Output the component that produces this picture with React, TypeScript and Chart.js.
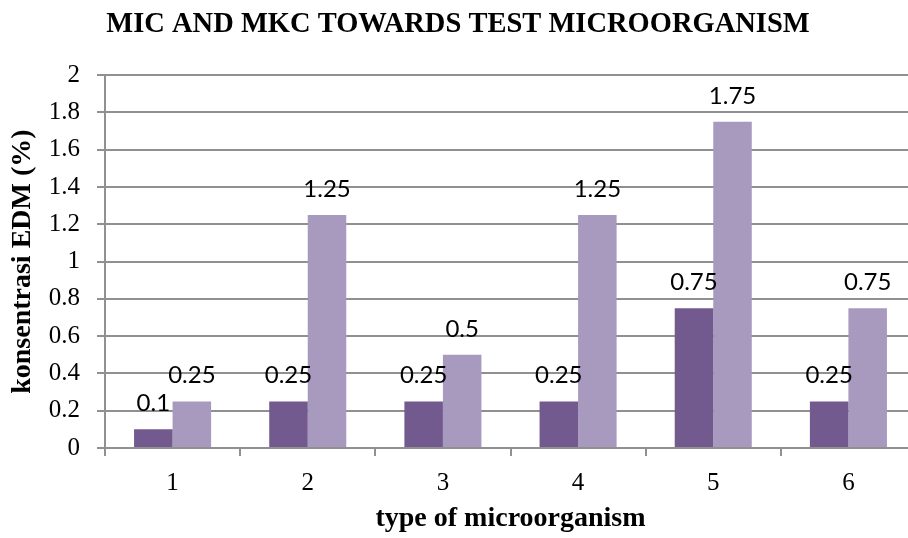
import React, { useEffect, useRef } from "react";
import { Chart, registerables } from "chart.js";

Chart.register(...registerables);

const categories = ["1", "2", "3", "4", "5", "6"];
const micValues = [0.1, 0.25, 0.25, 0.25, 0.75, 0.25];
const mkcValues = [0.25, 1.25, 0.5, 1.25, 1.75, 0.75];
const seriesNames = ["MIC", "MKC"];
const titleText = "MIC AND MKC TOWARDS TEST MICROORGANISM";
const xTitle = "type of microorganism";
const yTitle = "konsentrasi EDM (%)";

const labelPlugin = {
  id: "barValueLabels",
  afterDatasetsDraw(chart: any) {
    const ctx = chart.ctx;
    ctx.save();
    ctx.font = "24px Lato";
    ctx.fillStyle = "#000";
    ctx.textAlign = "center";
    ctx.textBaseline = "alphabetic";
    chart.data.datasets.forEach((ds: any, di: number) => {
      const meta = chart.getDatasetMeta(di);
      meta.data.forEach((el: any, i: number) => {
        ctx.fillText(String(ds.data[i]), el.x, el.y - 18);
      });
    });
    ctx.restore();
  },
};

export default function App() {
  const ref = useRef<HTMLCanvasElement>(null);
  useEffect(() => {
    if (!ref.current) return;
    const grid = "#909090";
    const chart = new Chart(ref.current, {
      type: "bar",
      data: {
        labels: categories,
        datasets: [
          { label: seriesNames[0], data: micValues, backgroundColor: "#725a8e" },
          { label: seriesNames[1], data: mkcValues, backgroundColor: "#a899bf" },
        ],
      },
      options: {
        responsive: false,
        animation: false,
        events: [],
        layout: { padding: { left: 0, right: 4, top: 0, bottom: 0 } },
        datasets: { bar: { categoryPercentage: 0.57, barPercentage: 1 } },
        plugins: {
          legend: { display: false },
          tooltip: { enabled: false },
          title: {
            display: true,
            text: titleText,
            color: "#000",
            font: { family: "Liberation Serif", size: 28.5, weight: "bold", lineHeight: 1.2 },
            padding: { top: 8, bottom: 33 },
          },
        },
        scales: {
          x: {
            afterFit: (s: any) => { s.height = 90; },
            grid: { display: true, drawOnChartArea: false, drawTicks: true, tickLength: 8, offset: true, color: grid, lineWidth: 2 },
            border: { display: true, color: grid, width: 2 },
            ticks: { color: "#000", padding: 12, font: { family: "Liberation Serif", size: 25 } },
            title: {
              display: true,
              text: xTitle,
              color: "#000",
              font: { family: "Liberation Serif", size: 28, weight: "bold", lineHeight: 1.2 },
              padding: { top: 0, bottom: 2 },
            },
          },
          y: {
            min: 0,
            max: 2,
            afterFit: (s: any) => { s.width = 105; },
            grid: { color: grid, lineWidth: 2, tickLength: 8, drawTicks: true },
            border: { display: true, color: grid, width: 2 },
            ticks: {
              stepSize: 0.2,
              color: "#000",
              padding: 17,
              font: { family: "Liberation Serif", size: 25 },
              callback: (v: any) => String(Math.round(Number(v) * 10) / 10),
            },
            title: {
              display: true,
              text: yTitle,
              color: "#000",
              font: { family: "Liberation Serif", size: 28, weight: "bold", lineHeight: 1.2 },
              padding: { top: 6, bottom: 0 },
            },
          },
        },
      },
      plugins: [labelPlugin],
    });
    return () => chart.destroy();
  }, []);
  return (
    <div style={{ position: "absolute", left: 0, top: 0, width: 908, height: 538, overflow: "hidden", background: "#fff" }}>
      <canvas ref={ref} width={920} height={538} style={{ display: "block" }} />
    </div>
  );
}
